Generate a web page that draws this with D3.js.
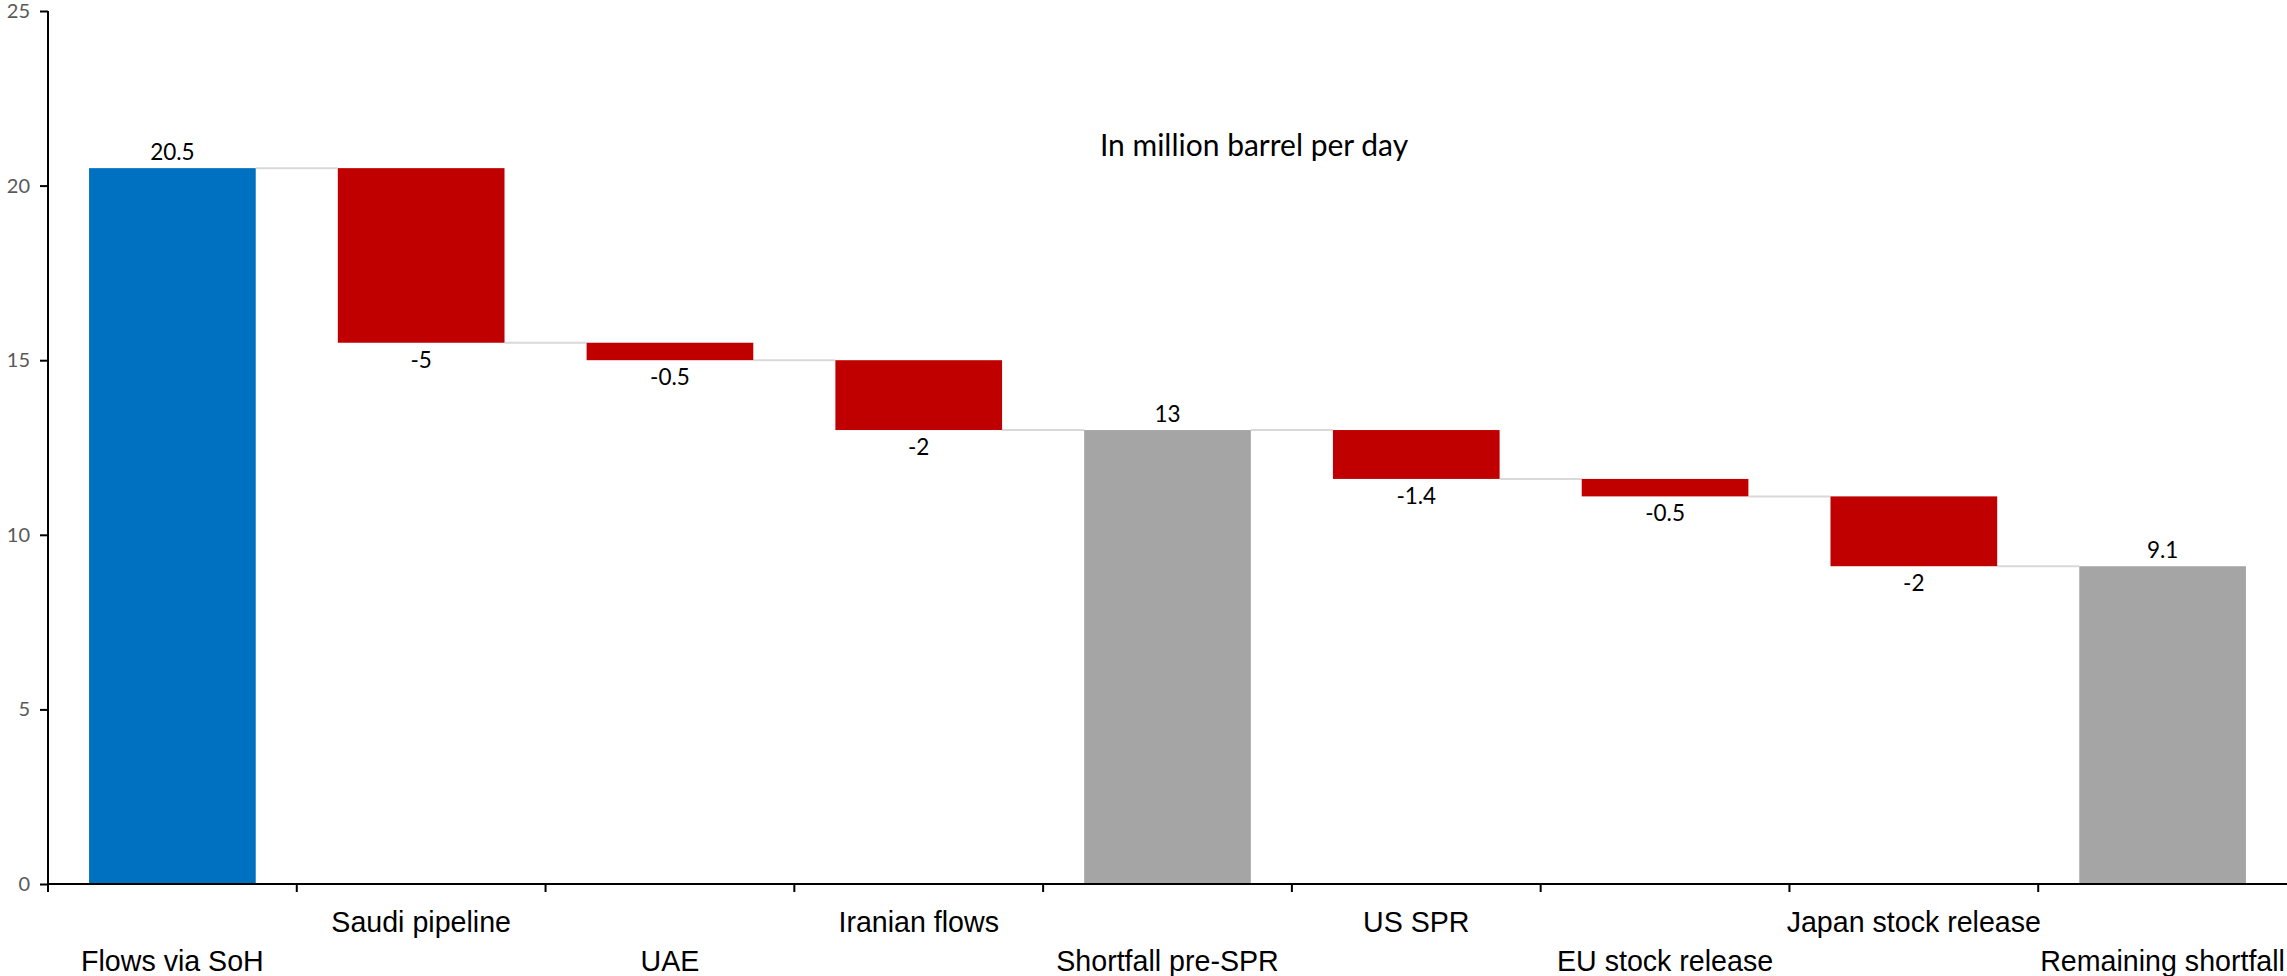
<!DOCTYPE html>
<html>
<head>
<meta charset="utf-8">
<script src="https://cdn.jsdelivr.net/npm/d3@7"></script>
<style>
  html, body { margin: 0; padding: 0; background: #ffffff; }
  svg { display: block; }
</style>
</head>
<body>
<svg id="chart" width="2287" height="976"></svg>
<script>
// Waterfall of oil flows through the Strait of Hormuz and offsets
const categories = [
  "Flows via SoH", "Saudi pipeline", "UAE", "Iranian flows",
  "Shortfall pre-SPR", "US SPR", "EU stock release",
  "Japan stock release", "Remaining shortfall"
];
const values = [20.5, -5, -0.5, -2, 13, -1.4, -0.5, -2, 9.1];
// "start" = opening total, "delta" = change, "total" = running subtotal
const kinds = ["start", "delta", "delta", "delta", "total", "delta", "delta", "delta", "total"];
const yTicks = [0, 5, 10, 15, 20, 25];
const subtitle = "In million barrel per day";

const colors = { start: "#0070C0", delta: "#C00000", total: "#A5A5A5" };

const W = 2287;
const plotLeft = 48, plotRight = 2287, plotTop = 11, plotBottom = 884;

const svg = d3.select("#chart");

const x = d3.scaleBand()
  .domain(categories)
  .range([plotLeft, plotRight])
  .paddingInner(0.33)
  .paddingOuter(0.165);

const y = d3.scaleLinear().domain([0, 25]).range([plotBottom, plotTop]);

// Build bar extents from the values
let running = 0;
const bars = categories.map((c, i) => {
  const v = values[i], k = kinds[i];
  let y0, y1;
  if (k === "delta") {
    y0 = running; y1 = running + v; running = y1;
  } else {
    y0 = 0; y1 = v; running = v;
  }
  return { cat: c, value: v, kind: k, y0, y1, level: running };
});

// Connector lines between consecutive bars
const gConn = svg.append("g");
bars.forEach((b, i) => {
  if (i === bars.length - 1) return;
  const next = bars[i + 1];
  gConn.append("line")
    .attr("x1", x(b.cat) + x.bandwidth())
    .attr("x2", x(next.cat))
    .attr("y1", y(b.level))
    .attr("y2", y(b.level))
    .attr("stroke", "#d9d9d9")
    .attr("stroke-width", 2);
});

// Bars
svg.append("g").selectAll("rect")
  .data(bars)
  .join("rect")
  .attr("x", d => x(d.cat))
  .attr("width", x.bandwidth())
  .attr("y", d => y(Math.max(d.y0, d.y1)))
  .attr("height", d => Math.abs(y(d.y0) - y(d.y1)))
  .attr("fill", d => colors[d.kind]);

// Value labels: above the bar for totals, below for reductions
svg.append("g").selectAll("text")
  .data(bars)
  .join("text")
  .attr("x", d => x(d.cat) + x.bandwidth() / 2)
  .attr("y", d => d.value >= 0 ? y(Math.max(d.y0, d.y1)) - 8 : y(Math.min(d.y0, d.y1)) + 25)
  .attr("text-anchor", "middle")
  .attr("font-family", "Lato, 'Open Sans', sans-serif")
  .attr("font-size", 22.5)
  .attr("fill", "#000")
  .text(d => String(d.value));

// Y axis
const yAxis = d3.axisLeft(y).tickValues(yTicks).tickSize(8).tickPadding(10);
const gy = svg.append("g").attr("transform", `translate(${plotLeft},0)`).call(yAxis);
gy.select(".domain").attr("stroke", "#000").attr("stroke-width", 2)
  .attr("d", `M0,${plotTop}V${plotBottom}`);
gy.selectAll(".tick line").attr("stroke", "#000").attr("stroke-width", 2);
gy.selectAll(".tick text")
  .attr("font-family", "Lato, 'Open Sans', sans-serif")
  .attr("font-size", 20)
  .attr("fill", "#595959");

// X axis line with ticks on category boundaries
const gx = svg.append("g");
gx.append("line")
  .attr("x1", plotLeft).attr("x2", plotRight)
  .attr("y1", plotBottom).attr("y2", plotBottom)
  .attr("stroke", "#000").attr("stroke-width", 2);
const boundaries = categories.map(c => x(c) - x.step() * x.paddingInner() / 2);
boundaries.forEach(bx => {
  gx.append("line")
    .attr("x1", bx).attr("x2", bx)
    .attr("y1", plotBottom).attr("y2", plotBottom + 8)
    .attr("stroke", "#000").attr("stroke-width", 2);
});

// Category labels on two staggered rows
gx.selectAll("text.cat")
  .data(categories)
  .join("text")
  .attr("class", "cat")
  .attr("x", c => x(c) + x.bandwidth() / 2)
  .attr("y", (c, i) => i % 2 === 0 ? 971 : 932)
  .attr("text-anchor", "middle")
  .attr("font-family", "'Liberation Sans Narrow', 'Arial Narrow', sans-serif")
  .attr("font-size", 28.6)
  .attr("fill", "#000")
  .text(c => c)
  .each(function () {
    // keep the last label inside the drawing
    const bb = this.getBBox();
    const overflow = bb.x + bb.width - (W - 2);
    if (overflow > 0) d3.select(this).attr("x", +d3.select(this).attr("x") - overflow);
  });

// Unit note
svg.append("text")
  .attr("x", 1254)
  .attr("y", 156)
  .attr("text-anchor", "middle")
  .attr("font-family", "Lato, 'Open Sans', sans-serif")
  .attr("font-size", 30)
  .attr("fill", "#000")
  .text(subtitle);
</script>
</body>
</html>
